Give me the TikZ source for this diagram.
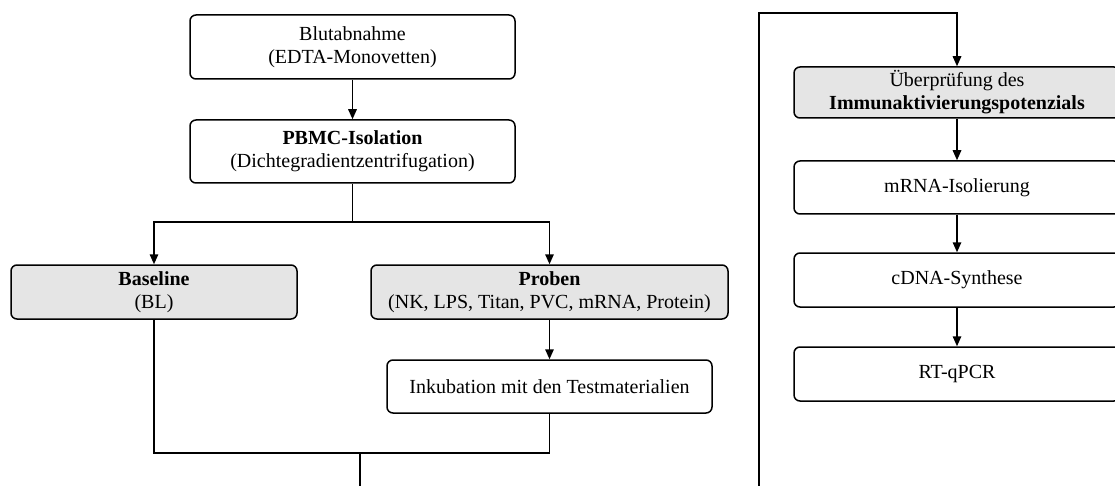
\documentclass[tikz,border=0pt]{standalone}
\usepackage{fontspec}
\setmainfont{Liberation Serif}
\usetikzlibrary{arrows.meta}

\tikzset{
  box/.style={draw, line width=1.5pt, rounded corners=6pt, align=center,
    inner sep=0pt, font=\fontsize{20}{23}\selectfont},
  greybox/.style={box, fill=black!10},
  pfeil/.style={line width=1.5pt, -{Triangle[width=8.5pt,length=10pt]}},
  linie/.style={line width=1.5pt}
}

\begin{document}
\begin{tikzpicture}[x=1pt,y=-1pt]

\useasboundingbox (0,0) rectangle (1115,486);
\clip (0,0) rectangle (1115,486);

% linke Spalte
\node[box, minimum width=325pt, minimum height=64pt] (blut) at (352.5,47)
  {Blutabnahme\\(EDTA-Monovetten)};
\node[box, minimum width=325pt, minimum height=63pt] (pbmc) at (352.5,151.5)
  {\textbf{PBMC-Isolation}\\(Dichtegradientzentrifugation)};
\node[greybox, minimum width=286pt, minimum height=54pt] (base) at (154,292)
  {\textbf{Baseline}\\(BL)};
\node[greybox, minimum width=357pt, minimum height=54pt] (proben) at (549.5,292)
  {\textbf{Proben}\\(NK, LPS, Titan, PVC, mRNA, Protein)};
\node[box, minimum width=325pt, minimum height=53pt] (inku) at (549.5,386.5)
  {Inkubation mit den Testmaterialien};

% rechte Spalte
\node[greybox, minimum width=326pt, minimum height=51pt] (pruef) at (957,92.5)
  {Überprüfung des\\\textbf{Immunaktivierungspotenzials}};
\node[box, minimum width=326pt, minimum height=53pt] (mrna) at (957,187.5)
  {mRNA-Isolierung};
\node[box, minimum width=326pt, minimum height=54pt] (cdna) at (957,280)
  {cDNA-Synthese};
\node[box, minimum width=326pt, minimum height=54pt] (rtq) at (957,374)
  {RT-qPCR};

% Verbindungen
\coordinate (split) at (352.5,222);
\coordinate (merge) at (360,453);
\coordinate (ende) at (360,490);
\coordinate (weiter) at (759,490);
\coordinate (oben) at (759,13);

\draw[pfeil] (blut) -- (pbmc);
\draw[linie] (pbmc) -- (split);
\draw[pfeil] (split) -| (base.north);
\draw[pfeil] (split) -| (proben.north);
\draw[pfeil] (proben) -- (inku);
\draw[linie] (base.south) |- (merge) -| (inku.south);
\draw[linie] (merge) -- (ende);

\draw[pfeil] (weiter) -- (oben) -| (pruef.north);
\draw[pfeil] (pruef) -- (mrna);
\draw[pfeil] (mrna) -- (cdna);
\draw[pfeil] (cdna) -- (rtq);

\end{tikzpicture}
\end{document}
